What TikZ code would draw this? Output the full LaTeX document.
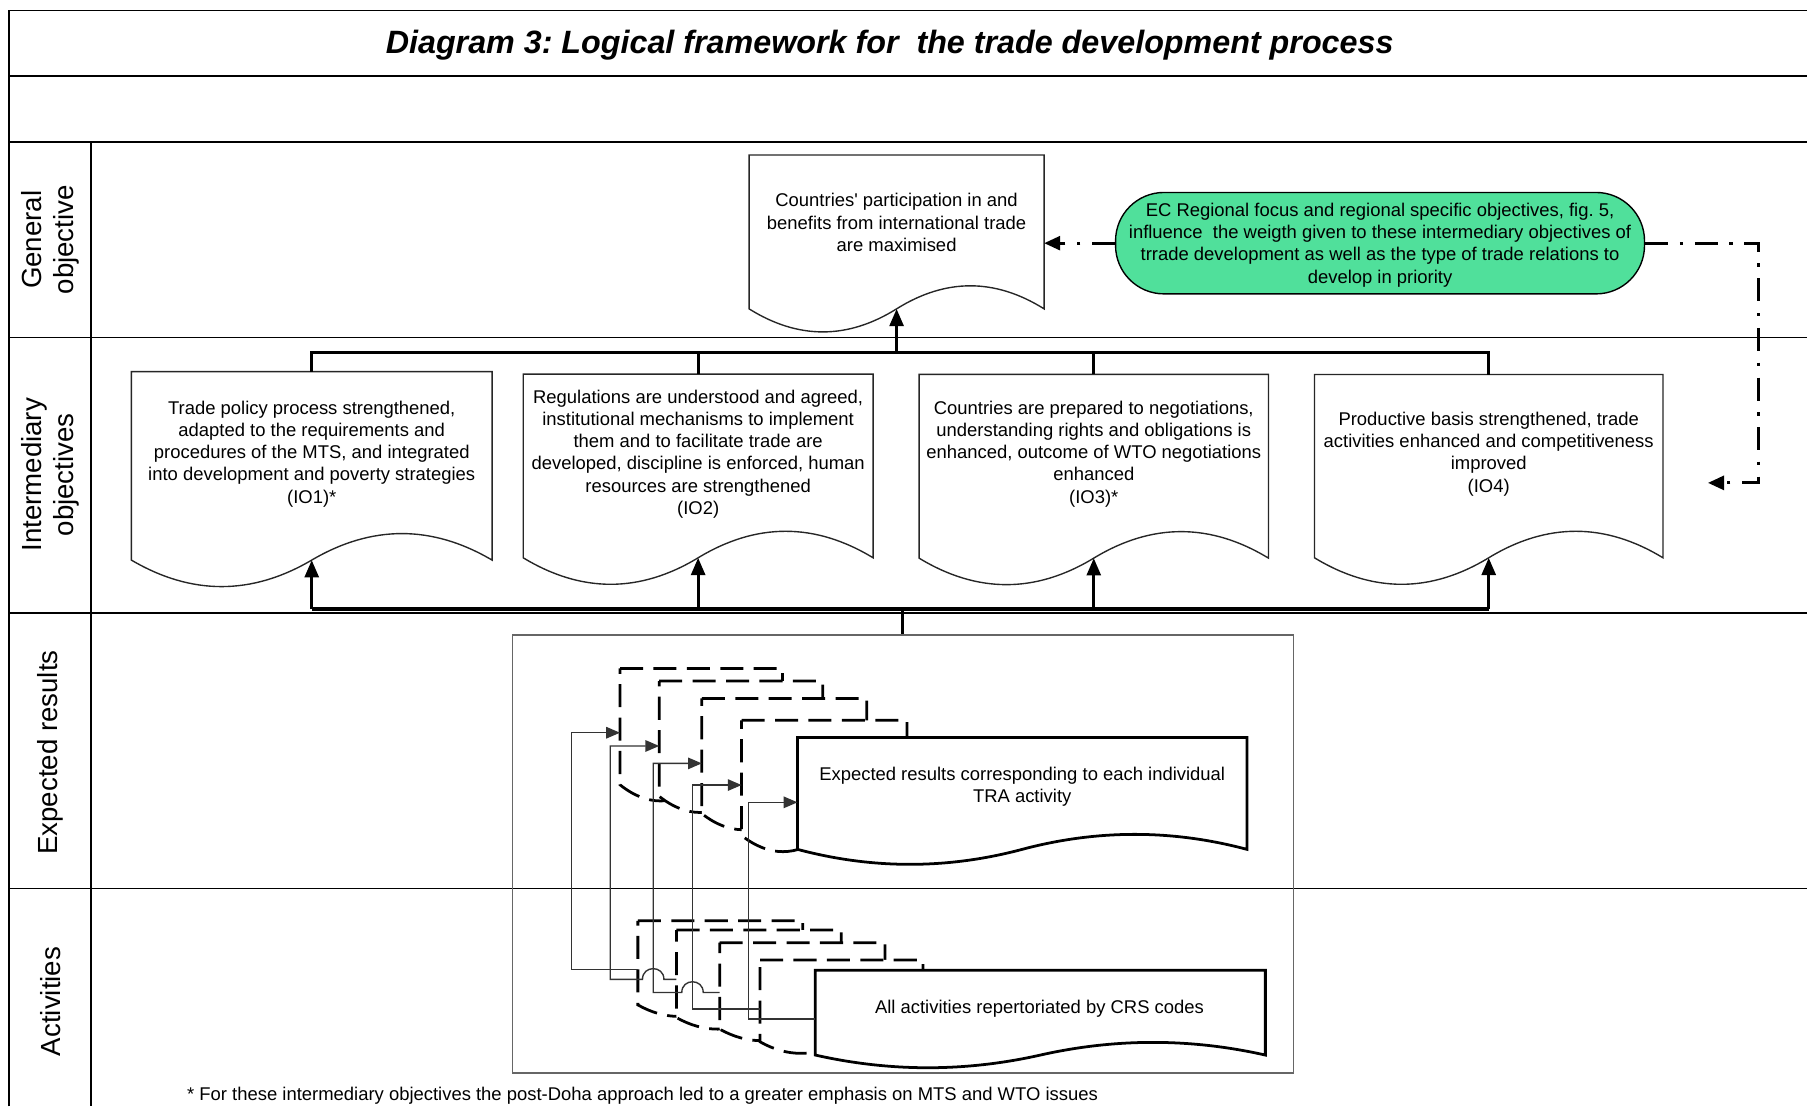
\documentclass[tikz,border=0pt]{standalone}
\usepackage{fontspec}
\setmainfont{Liberation Sans}
\usetikzlibrary{arrows.meta}

\definecolor{regiongreen}{RGB}{80,224,155}

\tikzset{
  gridline/.style={line width=0.7pt, black},
  docline/.style={line width=0.6pt, black!85, fill=white},
  stackfront/.style={line width=1.2pt, black, fill=white},
  stackback/.style={line width=1.2pt, black, fill=white, dash pattern=on 10pt off 4.5pt},
  bus/.style={line width=1.4pt, black},
  busarrow/.style={bus, -{Triangle[length=7.5pt,width=6pt]}},
  feed/.style={line width=0.6pt, black!80, -{Triangle[length=6pt,width=5pt]}},
  influence/.style={line width=1.4pt, dash pattern=on 10pt off 5pt on 1.5pt off 5pt,
    -{Triangle[length=7pt,width=6pt]}},
  boxtext/.style={align=center, font=\fontsize{8}{9.6}\selectfont, inner sep=0pt},
  rowlabel/.style={rotate=90, align=center, font=\fontsize{12}{14}\selectfont, inner sep=0pt},
}

% document shape: [style]{left}{top}{right}{bottom of sides}{wave amplitude}
\newcommand\docshape[6][]{%
  \pgfmathsetmacro\dcM{(#2+#4)/2}%
  \pgfmathsetmacro\dcS{(#4-#2)/6}%
  \pgfmathsetmacro\dcH{4*#6/3}%
  \pgfmathsetmacro\dcU{#5-\dcH}%
  \pgfmathsetmacro\dcD{#5+\dcH}%
  \pgfmathsetmacro\dcA{#4-\dcS}%
  \pgfmathsetmacro\dcB{\dcM+\dcS}%
  \pgfmathsetmacro\dcC{\dcM-\dcS}%
  \pgfmathsetmacro\dcE{#2+\dcS}%
  \draw[#1] (#2,#3) -- (#4,#3) -- (#4,#5)
    .. controls (\dcA,\dcU) and (\dcB,\dcU) .. (\dcM,#5)
    .. controls (\dcC,\dcD) and (\dcE,\dcD) .. (#2,#5) -- cycle;
}

\frenchspacing
\begin{document}
\begin{tikzpicture}[x=0.5pt, y=-0.5pt]
\useasboundingbox (0,0) rectangle (1568,960);

% table grid
\draw[gridline] (8,960) -- (8,9) -- (1568,9);
\foreach \yy in {66,123,293,532,771} \draw[gridline] (8,\yy) -- (1568,\yy);
\draw[gridline] (79,123) -- (79,960);

% title
\node[font=\fontsize{14}{17}\selectfont\bfseries\itshape] (title) at (772,39)
  {Diagram 3: Logical framework for~ the trade development process};

% row labels
\node[rowlabel] (lblgen) at (44,208) {General\\objective};
\node[rowlabel] (lblint) at (44,412) {Intermediary\\objectives};
\node[rowlabel] (lblexp) at (44,653) {Expected results};
\node[rowlabel] (lblact) at (44,869) {Activities};

% general objective
\docshape[docline]{650}{134.5}{906}{268}{20}
\node[boxtext] (general) at (778,193)
  {Countries\textquotesingle{} participation in and\\benefits from international trade\\are maximised};
\coordinate (general-in) at (778,268);
\coordinate (general-east) at (906,211);

% regional focus
\node[draw=black, line width=0.6pt, fill=regiongreen, rounded corners=21pt,
      minimum width=229.5pt, minimum height=44pt, boxtext, text depth=0pt] (region) at (1197.5,211)
  {EC Regional focus and regional specific objectives, fig. 5,\\
   influence~ the weigth given to these intermediary objectives of\\
   trrade development as well as the type of trade relations to\\
   develop in priority};

% intermediary objectives
\docshape[docline]{114}{322.5}{427}{486}{23}
\node[boxtext] (io1) at (270.5,394)
  {Trade policy process strengthened,\\adapted to the requirements and\\procedures of the MTS, and integrated\\into development and poverty strategies\\(IO1)*};
\coordinate (io1-top) at (270.5,322.5);
\coordinate (io1-in) at (270.5,486);

\docshape[docline]{454}{324.6}{757.6}{484}{23}
\node[boxtext] (io2) at (605.8,394)
  {Regulations are understood and agreed,\\institutional mechanisms to implement\\them and to facilitate trade are\\developed, discipline is enforced, human\\resources are strengthened\\(IO2)};
\coordinate (io2-top) at (605.8,324.6);
\coordinate (io2-in) at (605.8,484);

\docshape[docline]{797.5}{324.8}{1100.7}{484.3}{23}
\node[boxtext] (io3) at (949.1,394)
  {Countries are prepared to negotiations,\\understanding rights and obligations is\\enhanced, outcome of WTO negotiations\\enhanced\\(IO3)*};
\coordinate (io3-top) at (949.1,324.8);
\coordinate (io3-in) at (949.1,484.3);

\docshape[docline]{1140.6}{325}{1443}{484}{23}
\node[boxtext] (io4) at (1291.8,394)
  {Productive basis strengthened, trade\\activities enhanced and competitiveness\\improved\\(IO4)};
\coordinate (io4-top) at (1291.8,325);
\coordinate (io4-in) at (1291.8,484);
\coordinate (io4-side) at (1482,419);

% upper bus to the general objective
\coordinate (topbus) at (778,306);
\draw[bus] (io1-top) -- (io1-top |- topbus) -- (io4-top |- topbus) -- (io4-top);
\draw[bus] (io2-top) -- (io2-top |- topbus);
\draw[bus] (io3-top) -- (io3-top |- topbus);
\draw[busarrow] (topbus) -- (general-in);

% container of results and activities
\node[draw=black!60, line width=0.6pt, minimum width=339pt, minimum height=190pt,
      inner sep=0pt, anchor=north west] (container) at (444,550.5) {};

% lower bus from the results to the objectives
\coordinate (lowbus) at (783,528.5);
\draw[bus] (io1-in |- lowbus) -- (io4-in |- lowbus);
\draw[bus] (lowbus) -- (lowbus |- container.north);
\draw[busarrow] (io1-in |- lowbus) -- (io1-in);
\draw[busarrow] (io2-in |- lowbus) -- (io2-in);
\draw[busarrow] (io3-in |- lowbus) -- (io3-in);
\draw[busarrow] (io4-in |- lowbus) -- (io4-in);

% regional focus influences
\coordinate (bendtop) at (1526,211);
\coordinate (bendlow) at (1526,419);
\draw[influence] (region.west) -- (general-east);
\draw[influence] (region.east) -- (bendtop) -- (bendlow) -- (io4-side);

% stack of expected results
\docshape[stackback]{538}{580}{679}{681}{14}
\docshape[stackback]{572}{591}{714}{691}{14}
\docshape[stackback]{609}{606}{752}{706}{14}
\docshape[stackback]{643.5}{625}{787}{725}{14}
\docshape[stackfront]{692}{640}{1082}{737}{13}
\node[boxtext] (expected) at (887,683)
  {Expected results corresponding to each individual\\TRA activity};
\coordinate (res1-w) at (538,635.8);
\coordinate (res2-w) at (572,647.3);
\coordinate (res3-w) at (609,662.4);
\coordinate (res4-w) at (643.5,681.2);
\coordinate (res5-w) at (692,696.2);

% stack of activities
\docshape[stackback]{553.5}{799}{696.5}{872}{10}
\docshape[stackback]{587}{807}{730}{883}{10}
\docshape[stackback]{624.5}{818}{768}{893}{10}
\docshape[stackback]{659.5}{833}{801}{904}{10}
\docshape[stackfront]{707.5}{842}{1098}{915.5}{11}
\node[boxtext] (activities) at (902,875) {All activities repertoriated by CRS codes};
\coordinate (act1-w) at (553.5,841.1);
\coordinate (act2-w) at (587,849.8);
\coordinate (act3-w) at (624.5,861.2);
\coordinate (act4-w) at (659.5,875.6);
\coordinate (act5-w) at (707.5,884.2);

% each activity feeds its expected result
\draw[feed] (act1-w) -- (496,841.1) -- (496,635.8) -- (res1-w);
\draw[feed] (act2-w) -- (576.1,849.8) .. controls (576.1,837.4) and (557.5,837.4) .. (557.5,849.8)
  -- (529.5,849.8) -- (529.5,647.3) -- (res2-w);
\draw[feed] (act3-w) -- (610.2,861.2) .. controls (610.2,848.8) and (591.6,848.8) .. (591.6,861.2)
  -- (566.8,861.2) -- (566.8,662.4) -- (res3-w);
\draw[feed] (act4-w) -- (600.9,875.6) -- (600.9,681.2) -- (res4-w);
\draw[feed] (act5-w) -- (649.4,884.2) -- (649.4,696.2) -- (res5-w);

% footnote
\node[boxtext, anchor=west] (note) at (162,951)
  {* For these intermediary objectives the post-Doha approach led to a greater emphasis on MTS and WTO issues};
\end{tikzpicture}
\end{document}
